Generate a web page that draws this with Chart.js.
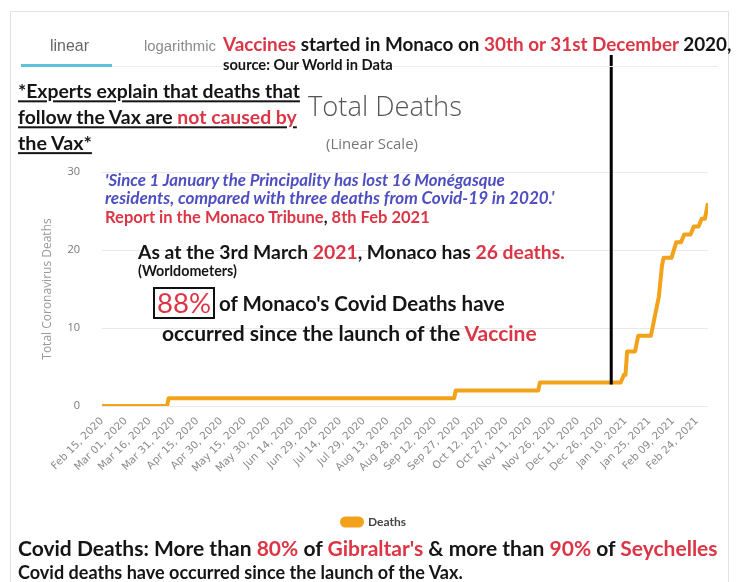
<!DOCTYPE html>
<html><head><meta charset="utf-8">
<script src="https://cdn.jsdelivr.net/npm/chart.js@4.4.1/dist/chart.umd.min.js"></script>
<style>
html,body{margin:0;padding:0;background:#fff;}
#wrap{position:relative;width:736px;height:582px;overflow:hidden;background:#fff;}
#card{position:absolute;left:10px;top:11px;width:719px;height:620px;border:1px solid #e3e3e3;box-sizing:border-box;}
canvas{position:absolute;left:0;top:0;}
.t{position:absolute;white-space:nowrap;line-height:1;transform:translateY(-50%);font-family:Lato,'Open Sans',sans-serif;font-weight:700;color:#151515;}
.r{color:#dc3545;}
.u{text-decoration:underline;text-decoration-thickness:2px;text-underline-offset:2px;}
.q{font-style:italic;color:#4e4ec2;}
</style></head><body>
<div id="wrap">
<div id="card"></div>
<canvas id="c" width="736" height="582"></canvas>
<div style="position:absolute;left:112px;top:66px;width:606px;height:1px;background:#ececec"></div>
<div style="position:absolute;left:21px;top:64px;width:91px;height:3px;background:#5bc4d8"></div>
<div class="t" data-w="39" style="left:50px;top:46px;font-weight:400;color:#666;font-family:'Liberation Sans',Arial,sans-serif">linear</div>
<div class="t" data-w="72" style="left:144px;top:46px;font-weight:400;color:#8a8a8a;font-family:'Liberation Sans',Arial,sans-serif">logarithmic</div>
<div class="t" data-w="509" style="left:223px;top:44px;"><span class="r">Vaccines</span> started in Monaco on <span class="r">30th or 31st December</span> 2020,</div>
<div class="t" data-w="170" style="left:223px;top:65px;">source: Our World in Data</div>
<div class="t u" data-w="282" style="left:18px;top:91px;">*Experts explain that deaths that</div>
<div class="t u" data-w="279" style="left:18px;top:117px;">follow the Vax are <span class="r">not caused by</span></div>
<div class="t u" data-w="74" style="left:18px;top:143px;">the Vax*</div>
<div class="t" data-w="154" style="left:308px;top:106px;font-weight:300;color:#555;font-family:'Open Sans',sans-serif">Total Deaths</div>
<div class="t" data-w="92" style="left:326px;top:143px;font-weight:400;color:#777;font-family:'Open Sans',sans-serif">(Linear Scale)</div>
<div class="t q" data-w="400" style="left:105px;top:180px;">'Since 1 January the Principality has lost 16 Monégasque</div>
<div class="t q" data-w="450" style="left:105px;top:198px;">residents, compared with three deaths from Covid-19 in 2020.'</div>
<div class="t" data-w="325" style="left:105px;top:217px;"><span class="r">Report in the Monaco Tribune</span>, <span class="r">8th Feb 2021</span></div>
<div class="t" data-w="427" style="left:138px;top:252px;">As at the 3rd March <span class="r">2021</span>, Monaco has <span class="r">26 deaths.</span></div>
<div class="t" data-w="99" style="left:138px;top:271px;">(Worldometers)</div>
<div style="position:absolute;left:153px;top:287px;width:62px;height:32px;border:2px solid #111;box-sizing:border-box;"></div>
<div class="t r" data-w="54" style="left:157px;top:303px;font-weight:400;">88%</div>
<div class="t" data-w="286" style="left:219px;top:303px;">of Monaco's Covid Deaths have</div>
<div class="t" data-w="375" style="left:162px;top:333px;">occurred since the launch of the <span class="r">Vaccine</span></div>
<div class="t" data-w="700" style="left:18px;top:548px;">Covid Deaths: More than <span class="r">80%</span> of <span class="r">Gibraltar's</span> &amp; more than <span class="r">90%</span> of <span class="r">Seychelles</span></div>
<div class="t" data-w="445" style="left:18px;top:572px;">Covid deaths have occurred since the launch of the Vax.</div>
</div>
<script>
// ---- data ----
const startDate = '2020-02-15';
const dates = ['2020-02-15','2020-03-27','2020-03-28','2020-09-24','2020-09-25','2020-11-16','2020-11-17',
  '2021-01-07','2021-01-09','2021-01-10','2021-01-11','2021-01-16','2021-01-18','2021-01-26','2021-01-28',
  '2021-01-31','2021-02-02','2021-02-03','2021-02-08','2021-02-11','2021-02-14','2021-02-16','2021-02-20',
  '2021-02-22','2021-02-25','2021-02-27','2021-03-01','2021-03-03'];
const deaths = [0,0,1,1,2,2,3,
  3,4,4,7,7,9,9,11,
  14,18,19,19,21,21,22,22,
  23,23,24,24,26];
const xTickLabels = ['Feb 15, 2020','Mar 01, 2020','Mar 16, 2020','Mar 31, 2020','Apr 15, 2020','Apr 30, 2020',
  'May 15, 2020','May 30, 2020','Jun 14, 2020','Jun 29, 2020','Jul 14, 2020','Jul 29, 2020','Aug 13, 2020',
  'Aug 28, 2020','Sep 12, 2020','Sep 27, 2020','Oct 12, 2020','Oct 27, 2020','Nov 11, 2020','Nov 26, 2020',
  'Dec 11, 2020','Dec 26, 2020','Jan 10, 2021','Jan 25, 2021','Feb 09, 2021','Feb 24, 2021'];
const yTicks = [0,10,20,30];
const vaccineDate = '2021-01-01';
const seriesName = 'Deaths';

// ---- fit overlay text widths ----
document.querySelectorAll('[data-w]').forEach(el=>{
  const base=20; el.style.fontSize=base+'px';
  const w=el.getBoundingClientRect().width;
  el.style.fontSize=(base*(+el.dataset.w)/w)+'px';
});

const t0 = new Date(startDate+'T00:00:00');
const dayNum = s => Math.round((new Date(s.length===10 && s[4]==='-' ? s+'T00:00:00' : s) - t0)/864e5);
const points = dates.map((d,i)=>({x:dayNum(d), y:deaths[i]}));
const tickDays = xTickLabels.map(dayNum);
const lastDay = points[points.length-1].x;
const vaxDay = dayNum(vaccineDate);
let vaxValue = 0; points.forEach(p=>{ if(p.x<=vaxDay) vaxValue=p.y; });

const orange = '#f2a21b';
const vaxLine = {
  id:'vaxLine',
  afterDatasetsDraw(chart){
    const c=chart.ctx, x=chart.scales.x.getPixelForValue(vaxDay), yb=chart.scales.y.getPixelForValue(vaxValue)+2;
    c.save(); c.strokeStyle='#000'; c.lineWidth=3; c.beginPath(); c.moveTo(x,55); c.lineTo(x,yb); c.stroke(); c.restore();
  }
};

new Chart(document.getElementById('c'), {
  type:'line',
  data:{datasets:[{label:seriesName,data:points,borderColor:orange,backgroundColor:orange,borderWidth:4,
    pointRadius:0,pointHoverRadius:0,tension:0,fill:false,borderJoinStyle:'round'}]},
  options:{
    responsive:false, animation:false, devicePixelRatio:1,
    layout:{padding:{left:40,right:28,top:172,bottom:44}},
    plugins:{
      tooltip:{enabled:false},
      legend:{position:'bottom',labels:{color:'#444',font:{family:'Lato',size:12,weight:'bold'},boxWidth:20,boxHeight:7,useBorderRadius:true,borderRadius:3.5,padding:10}}
    },
    scales:{
      x:{type:'linear',min:0,max:lastDay,
        afterBuildTicks(s){ s.ticks = tickDays.map(v=>({value:v})); },
        afterFit(s){ s.height=100; },
        grid:{display:false,drawTicks:false}, border:{display:false},
        ticks:{autoSkip:false,maxRotation:45,minRotation:45,padding:9,color:'#8a8a8a',
          font:{family:'DejaVu Sans',size:10.5},
          callback:(v,i)=> xTickLabels[i]}
      },
      y:{min:0,max:30,
        afterBuildTicks(s){ s.ticks = yTicks.map(v=>({value:v})); },
        afterFit(s){ s.width=62; },
        grid:{color:'#e9e9e9',drawTicks:false}, border:{display:false},
        ticks:{padding:22,color:'#777',font:{family:'Open Sans',size:11}},
        title:{display:true,text:'Total Coronavirus Deaths',color:'#999',font:{family:'Open Sans',size:12},padding:{top:0,bottom:0}}
      }
    }
  },
  plugins:[vaxLine]
});
</script>
</body></html>
